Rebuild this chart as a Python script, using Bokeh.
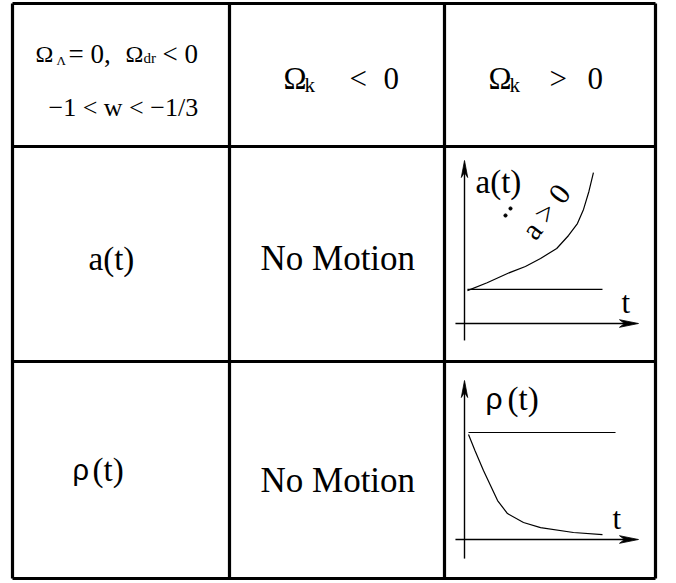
import numpy as np
from bokeh.plotting import figure
from bokeh.models import Range1d
from bokeh.core.properties import value
from bokeh.embed import file_html
from bokeh.resources import INLINE

# ---------------- table content ----------------
col_relations = ["<", ">"]
row_labels = ["a(t)", "ρ(t)"]
neg_k_entries = ["No Motion", "No Motion"]
corner_line2 = "−1 < w < −1/3"

# ---------------- sketch data (normalised: t along time axis, v up) ----------------
a_curve_t = [0.017, 0.130, 0.247, 0.350, 0.437, 0.530, 0.598, 0.649, 0.684, 0.715, 0.741]
a_curve_v = [0.202, 0.250, 0.307, 0.350, 0.399, 0.460, 0.540, 0.613, 0.700, 0.810, 0.926]
a_ref_level = 0.209
a_ref_span = [0.017, 0.793]

rho_curve_t = [0.023, 0.060, 0.109, 0.190, 0.247, 0.339, 0.437, 0.626, 0.793]
rho_curve_v = [0.660, 0.560, 0.434, 0.245, 0.163, 0.107, 0.075, 0.044, 0.031]
rho_ref_level = 0.673
rho_ref_span = [0.023, 0.868]

# ---------------- layout ----------------
col_edges = [12, 229, 444, 655]
row_edges = [3, 146, 361, 578]

SERIF = value("Liberation Serif")
SANS = value("Arial")

p = figure(width=676, height=583, x_range=Range1d(0, 676), y_range=Range1d(583, 0),
           output_backend="svg", toolbar_location=None, min_border=0)
p.axis.visible = False
p.grid.visible = False
p.outline_line_color = None
p.background_fill_color = "white"
p.border_fill_color = "white"

# grid lines of the table
for x in col_edges:
    p.line([x, x], [row_edges[0], row_edges[-1]], line_color="black", line_width=3.2)
for y in row_edges:
    p.line([col_edges[0], col_edges[-1]], [y, y], line_color="black", line_width=3.2)


def txt(x, y, s, size, font=SERIF, align="left", baseline="alphabetic", angle=0.0):
    p.text(x=[x], y=[y], text=[s], text_font=font, text_font_size=f"{size}px",
           text_align=align, text_baseline=baseline, angle=angle, text_color="black")


# corner cell
txt(35, 53, "Ω", 24)
txt(56, 60, "Λ", 13)
txt(68, 53, "= 0,", 27)
txt(125, 53, "Ω", 24)
txt(143, 57, "dr", 15)
txt(162, 53, "< 0", 27)
txt(48, 107, corner_line2, 26)

# column headers
for x0, rel, xr, x0z in [(283, col_relations[0], 349, 383), (488, col_relations[1], 549, 587)]:
    txt(x0, 78, "Ω", 31)
    txt(x0 + 21, 84, "k", 21)
    txt(xr, 78, rel, 31)
    txt(x0z, 78, "0", 31)

# row labels
txt(88, 258, row_labels[0], 33)
txt(72, 469, row_labels[1][0], 29, font=SANS)
txt(92, 469, row_labels[1][1:], 33)

# "No Motion" entries
txt(260, 258, neg_k_entries[0], 35)
txt(260, 480, neg_k_entries[1], 35)


def sketch(ox, oy, sy, ct, cv, level, span, vlo):
    sx = 174.0
    X = lambda t: ox + sx * np.asarray(t, dtype=float)
    Y = lambda v: oy - sy * np.asarray(v, dtype=float)
    # axes
    p.line(X([-0.052, 0.93]), [oy, oy], line_color="black", line_width=1.4)
    p.line([ox, ox], Y([vlo, 0.93]), line_color="black", line_width=1.4)
    tipx, tipy = float(X(1.0)), float(Y(1.0))
    p.patch([tipx, tipx - 19, tipx - 14, tipx - 19], [oy, oy - 3.8, oy, oy + 3.8],
            fill_color="black", line_color="black", line_width=0.8)
    p.patch([ox, ox - 3.2, ox, ox + 3.2], [tipy, tipy + 17, tipy + 12, tipy + 17],
            fill_color="black", line_color="black", line_width=0.8)
    # reference level and curve
    p.line(X(span), [float(Y(level))] * 2, line_color="black", line_width=1.2)
    p.line(X(ct), Y(cv), line_color="black", line_width=1.2)


sketch(464, 323, 163.0, a_curve_t, a_curve_v, a_ref_level, a_ref_span, -0.104)
sketch(464, 539, 159.0, rho_curve_t, rho_curve_v, rho_ref_level, rho_ref_span, -0.12)

# sketch labels
txt(475, 181, "a(t)", 33)
txt(621, 302, "t", 31)
txt(485, 398, "ρ", 30, font=SANS)
txt(507, 398, "(t)", 33)
txt(612, 518, "t", 31)

# rotated annotation  ä > 0
txt(545, 211, "a > 0", 30, align="center", baseline="middle", angle=0.925)
p.scatter(x=[505, 510], y=[215, 208], size=3.2, color="black")

open("out.html", "w").write(file_html(p, INLINE))
